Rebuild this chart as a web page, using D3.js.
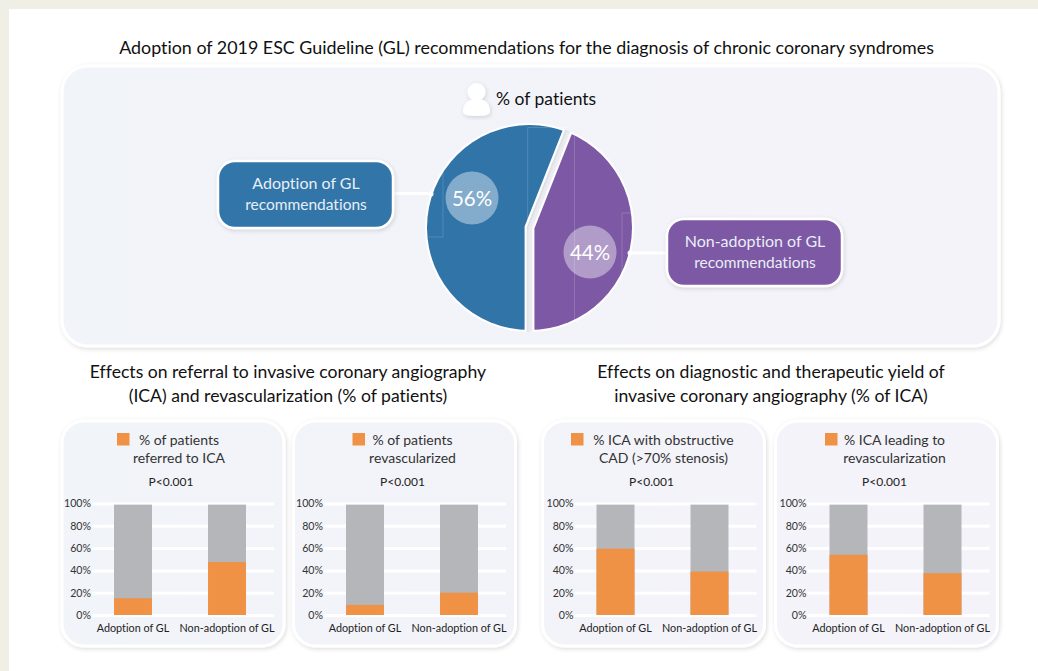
<!DOCTYPE html>
<html>
<head>
<meta charset="utf-8">
<script src="https://cdnjs.cloudflare.com/ajax/libs/d3/7.8.5/d3.min.js"></script>
<style>
  body { margin: 0; background: #fff; }
  svg { display: block; }
  text { font-family: Lato, "Open Sans", sans-serif; font-variant-ligatures: none; }
</style>
</head>
<body>
<svg id="chart" width="1038" height="671"></svg>
<script>
// Data
const mainTitle = "Adoption of 2019 ESC Guideline (GL) recommendations for the diagnosis of chronic coronary syndromes";
const pieValues = [56, 44];
const groupLabels = ["Adoption of GL", "Non-adoption of GL"];
const barFull = [99, 99];
const referredToIca = [15, 47.5];
const revascularized = [9, 20];
const obstructiveCad = [59.5, 39];
const icaToRevasc = [54, 37.5];
const yTicks = [0, 20, 40, 60, 80, 100];
const legendLines = [
  ["% of patients", "referred to ICA"],
  ["% of patients", "revascularized"],
  ["% ICA with obstructive", "CAD (>70% stenosis)"],
  ["% ICA leading to", "revascularization"]
];

const ORANGE = "#f09246", GREY = "#b4b6b9", BLUE = "#3174a8", PURPLE = "#7d59a5";

const svg = d3.select("#chart");
const defs = svg.append("defs");

const shadow = defs.append("filter").attr("id", "shadow")
  .attr("x", "-10%").attr("y", "-10%").attr("width", "120%").attr("height", "120%");
shadow.append("feDropShadow").attr("dx", 1).attr("dy", 1.5).attr("stdDeviation", 2)
  .attr("flood-color", "#000").attr("flood-opacity", 0.14);

// one tint across the page: bluer on the left, more violet on the right
const panelFill = defs.append("linearGradient").attr("id", "panelFill")
  .attr("gradientUnits", "userSpaceOnUse").attr("x1", 62).attr("x2", 999).attr("y1", 0).attr("y2", 0);
panelFill.append("stop").attr("offset", "0%").attr("stop-color", "#f1f4f8");
panelFill.append("stop").attr("offset", "100%").attr("stop-color", "#f4f3fa");

// page background
svg.append("rect").attr("width", 1038).attr("height", 671).attr("fill", "#efefe5");
svg.append("rect").attr("x", 9).attr("y", 9).attr("width", 1029).attr("height", 662).attr("fill", "#fff");

function panel(x, y, w, h, r) {
  svg.append("rect").attr("x", x).attr("y", y).attr("width", w).attr("height", h).attr("rx", r)
    .attr("fill", "url(#panelFill)").attr("stroke", "#fff").attr("stroke-width", 3)
    .attr("filter", "url(#shadow)");
}

function label(parent, x, y, txt, size, color, anchor) {
  return parent.append("text").attr("x", x).attr("y", y).attr("text-anchor", anchor || "middle")
    .attr("font-size", size).attr("fill", color).text(txt);
}

label(svg, 526.5, 54, mainTitle, 17.87, "#111");
label(svg, 288, 378, "Effects on referral to invasive coronary angiography", 17.6, "#111");
label(svg, 288, 402, "(ICA) and revascularization (% of patients)", 17.6, "#111");
label(svg, 771, 378, "Effects on diagnostic and therapeutic yield of", 17.6, "#111");
label(svg, 771, 402, "invasive coronary angiography (% of ICA)", 17.6, "#111");

// Top panel with the pie
panel(62, 66, 937, 280, 26);

const pieX = 529.5, pieY = 227.5, pieR = 102.5, sliceShift = 5;

// person icon
const person = svg.append("g").attr("filter", "url(#shadow)").attr("fill", "#fff");
person.append("circle").attr("cx", 476.5).attr("cy", 92).attr("r", 9);
person.append("path").attr("d", "M463 112 C463 103 468 99 476.5 99 C485 99 490 103 490 112 Q490 116 476.5 116 Q463 116 463 112 Z");
label(svg, 496, 105, "% of patients", 17.5, "#111", "start");

// connector lines under the pie
svg.append("line").attr("x1", 392).attr("x2", 431).attr("y1", 193.5).attr("y2", 193.5)
  .attr("stroke", "#fff").attr("stroke-width", 3);
svg.append("line").attr("x1", 630).attr("x2", 668).attr("y1", 253).attr("y2", 253)
  .attr("stroke", "#fff").attr("stroke-width", 3);

defs.append("clipPath").attr("id", "pieOuter").append("circle").attr("r", pieR + 2);
defs.append("clipPath").attr("id", "pieInner").append("circle").attr("r", pieR);

// blue slice runs clockwise from the bottom, so the pie starts at 180 degrees
const pie = d3.pie().sort(null).startAngle(Math.PI).endAngle(3 * Math.PI);
const arcs = pie(pieValues);
const arc = d3.arc().innerRadius(0).outerRadius(pieR + sliceShift + 4);
const pieColors = [BLUE, PURPLE];

const pieG = svg.append("g").attr("transform", `translate(${pieX},${pieY})`);
const outline = pieG.append("g").attr("clip-path", "url(#pieOuter)").attr("filter", "url(#shadow)");
const fills = pieG.append("g").attr("clip-path", "url(#pieInner)");

function sliceOffset(d) {
  const mid = (d.startAngle + d.endAngle) / 2;
  return `translate(${Math.sin(mid) * sliceShift},${-Math.cos(mid) * sliceShift})`;
}

outline.selectAll("path").data(arcs).join("path")
  .attr("d", arc).attr("transform", sliceOffset)
  .attr("fill", "#fff").attr("stroke", "#fff").attr("stroke-width", 4);
fills.selectAll("path").data(arcs).join("path")
  .attr("d", arc).attr("transform", sliceOffset)
  .attr("fill", (d, i) => pieColors[i]);

// faint hairlines the original artwork has on top of the slices
const hairlines = [
  "M527.7 223V127.5H570", "M427 237H443V165",
  "M574.5 136V320", "M622 315V213H632"
];
svg.selectAll(".hair").data(hairlines).join("path").attr("class", "hair")
  .attr("d", d => d).attr("fill", "none").attr("stroke", "#fff")
  .attr("stroke-opacity", 0.2).attr("stroke-width", 0.8);

// dots where the connectors meet the pie
svg.append("circle").attr("cx", 431).attr("cy", 194).attr("r", 2.5).attr("fill", "#fff");
svg.append("circle").attr("cx", 630).attr("cy", 253).attr("r", 2.5).attr("fill", "#fff");

// percent badges
const badges = [[472, 198], [590, 252]];
badges.forEach(function (b, i) {
  svg.append("circle").attr("cx", b[0]).attr("cy", b[1]).attr("r", 26.5)
    .attr("fill", "#fff").attr("fill-opacity", 0.4);
  label(svg, b[0], b[1] + 7.5, pieValues[i] + "%", 20.5, "#fff");
});

// callouts
function callout(x, y, color, line1, line2) {
  svg.append("rect").attr("x", x).attr("y", y).attr("width", 175).attr("height", 67).attr("rx", 17)
    .attr("fill", color).attr("stroke", "#fff").attr("stroke-width", 2.5).attr("filter", "url(#shadow)");
  label(svg, x + 88, y + 28, line1, 16, "#e8eef5");
  label(svg, x + 88, y + 49, line2, 15.5, "#e8eef5");
}
callout(218, 161, BLUE, "Adoption of GL", "recommendations");
callout(667, 219, PURPLE, "Non-adoption of GL", "recommendations");

// Small bar panels
const yScale = d3.scaleLinear().domain([0, 100]).range([615, 503.5]);
const xScale = d3.scaleBand().domain(groupLabels).range([24, 212])
  .paddingInner(0.596).paddingOuter(0.298);

function barPanel(x, plotShift, legendX, textX, values, lines) {
  panel(x, 421, 222, 225, 22);
  const g = svg.append("g").attr("transform", `translate(${x},0)`);
  const plot = g.append("g").attr("transform", `translate(${plotShift},0)`);

  // white gridlines come from the y axis ticks
  const yAxis = d3.axisLeft(yScale).tickValues(yTicks).tickFormat(d => d + "%")
    .tickSize(-182).tickPadding(1);
  const ya = plot.append("g").attr("transform", "translate(30,0)").call(yAxis);
  ya.select(".domain").remove();
  ya.selectAll("line").attr("stroke", "#fff").attr("stroke-width", 3);
  ya.selectAll("text").attr("font-size", 10.6).attr("fill", "#333");

  plot.selectAll(".full").data(groupLabels).join("rect").attr("class", "full")
    .attr("x", d => xScale(d)).attr("width", xScale.bandwidth())
    .attr("y", (d, i) => yScale(barFull[i])).attr("height", (d, i) => yScale(0) - yScale(barFull[i]))
    .attr("fill", GREY);
  plot.selectAll(".part").data(groupLabels).join("rect").attr("class", "part")
    .attr("x", d => xScale(d)).attr("width", xScale.bandwidth())
    .attr("y", (d, i) => yScale(values[i])).attr("height", (d, i) => yScale(0) - yScale(values[i]))
    .attr("fill", ORANGE);

  const xAxis = d3.axisBottom(xScale).tickSize(0).tickPadding(6);
  const xa = plot.append("g").attr("transform", "translate(0,618)").call(xAxis);
  xa.select(".domain").remove();
  xa.selectAll("text").attr("font-size", 10.8).attr("fill", "#222");

  // legend
  g.append("rect").attr("x", legendX).attr("y", 433).attr("width", 12.5).attr("height", 12.5).attr("fill", ORANGE);
  label(g, textX, 445, lines[0], 14, "#333");
  label(g, textX, 463, lines[1], 14, "#333");
  label(g, 109, 486, "P<0.001", 12, "#222");
}

barPanel(62, 0, 55, 117, referredToIca, legendLines[0]);
barPanel(293.5, 0.5, 59, 119, revascularized, legendLines[1]);
barPanel(542.5, 2, 28.5, 121, obstructiveCad, legendLines[2]);
barPanel(775.5, 2, 49.5, 119, icaToRevasc, legendLines[3]);
</script>
</body>
</html>
